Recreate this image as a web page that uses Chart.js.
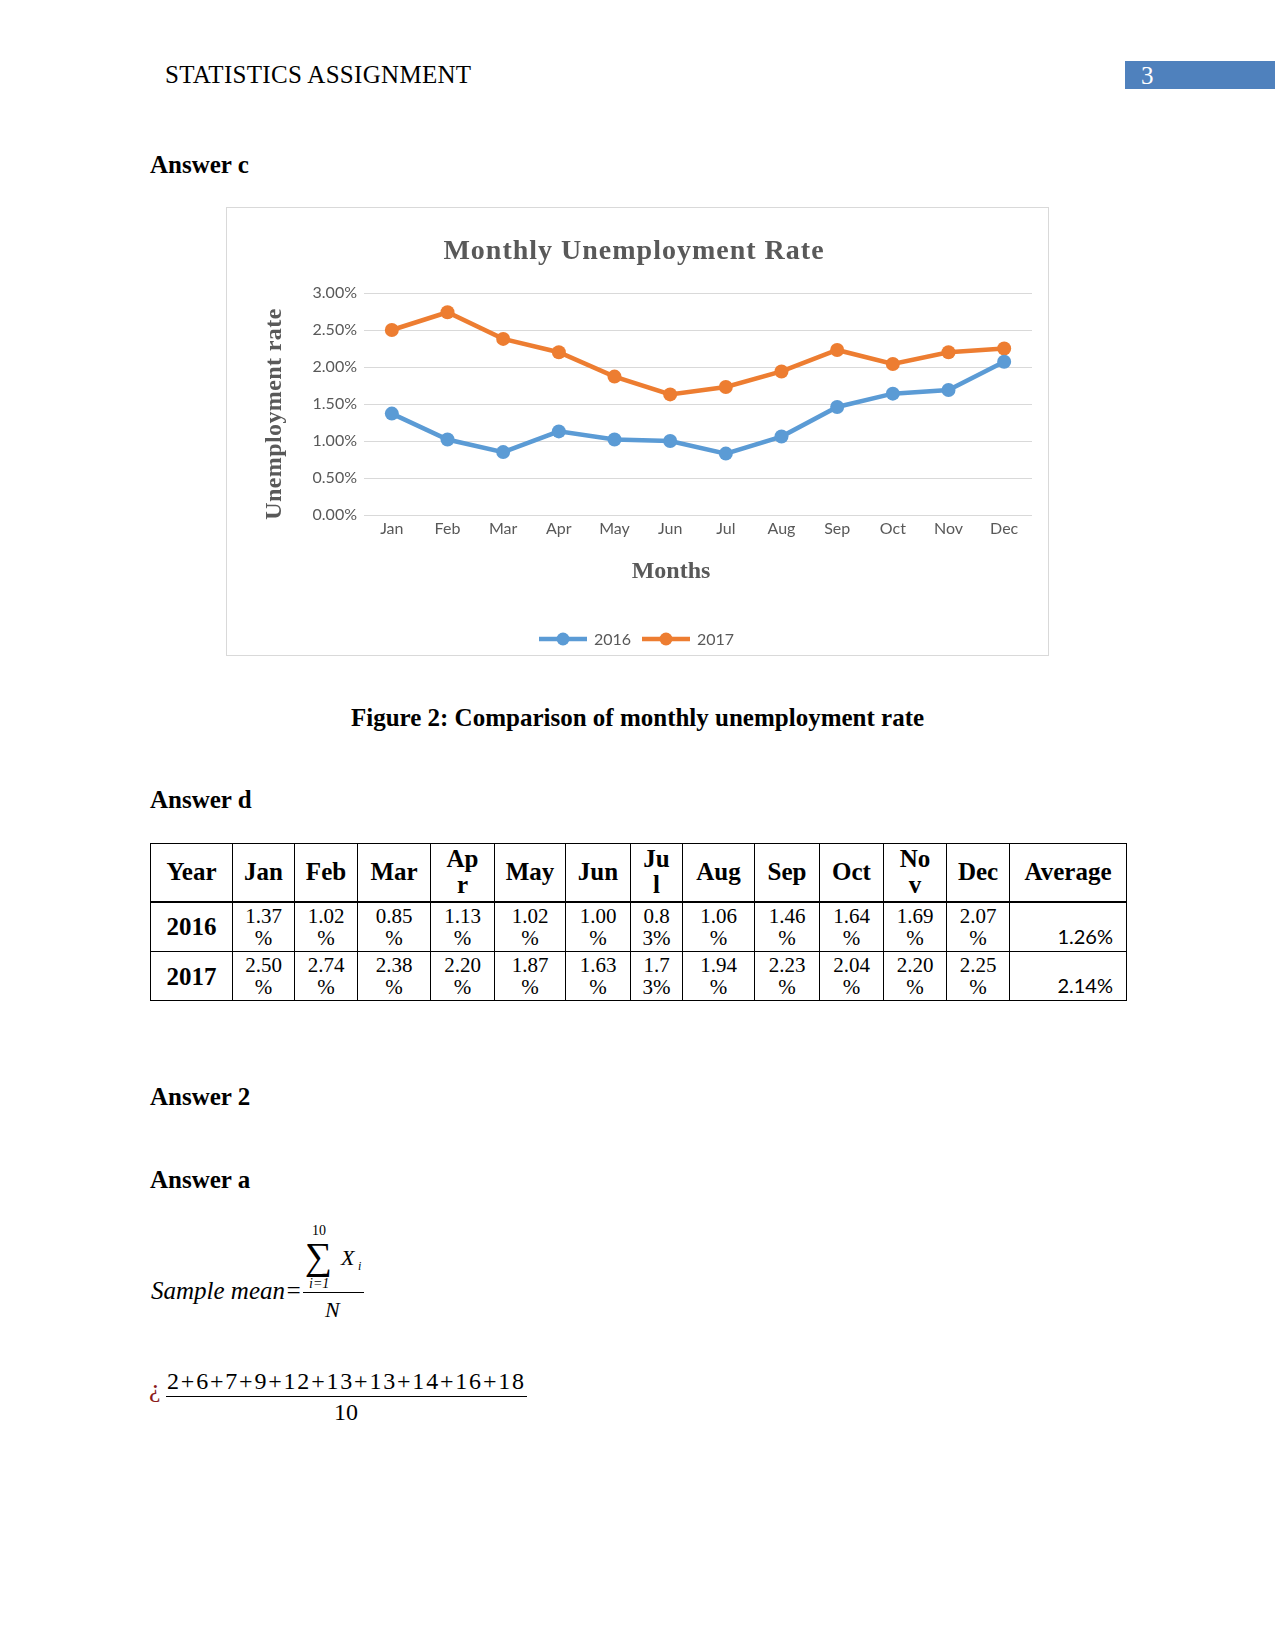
<!DOCTYPE html>
<html>
<head>
<meta charset="utf-8">
<script src="https://cdn.jsdelivr.net/npm/chart.js@4.4.0/dist/chart.umd.min.js"></script>
<style>
  body { margin: 0; background: #fff; }
  #page { position: relative; width: 1275px; height: 1650px; font-family: "Liberation Serif", serif; color: #000; overflow: hidden; }
  .t { position: absolute; white-space: nowrap; font-size: 25px; line-height: 25px; }
  .b { font-weight: bold; }
  #pageNo { position: absolute; left: 1125px; top: 61px; width: 150px; height: 28px; background: #4f81bd; }
  #pageNo span { position: absolute; left: 16px; top: 2px; color: #fff; font-size: 25px; line-height: 25px; }
  #chartBox { position: absolute; left: 226px; top: 207px; width: 823px; height: 449px; box-sizing: border-box; border: 1px solid #d9d9d9; }
  #chartBox canvas { display: block; }
  #tbl { position: absolute; left: 150px; top: 843px; border-collapse: collapse; table-layout: fixed; width: 976px; }
  #tbl td, #tbl th { border: 1px solid #000; padding: 0; text-align: center; }
  #tbl tr.hd { height: 58px; }
  #tbl tr.hd th { font-size: 25px; line-height: 26px; border-bottom: 2px solid #000; }
  #tbl tr.r1 { height: 50px; }
  #tbl tr.r2 { height: 49px; }
  #tbl td.yr { font-weight: bold; font-size: 25px; line-height: 25px; }
  #tbl td.v { font-size: 21px; line-height: 22px; }
  #tbl td.avg { font-family: Lato, sans-serif; font-size: 20px; line-height: 21px; text-align: right; vertical-align: bottom; padding: 0 13px 4px 0; }
  .m { position: absolute; white-space: nowrap; font-family: "Liberation Serif", serif; }
</style>
</head>
<body>
<div id="page">
  <div class="t" style="left:165px; top:62px; letter-spacing:0.3px;">STATISTICS ASSIGNMENT</div>
  <div id="pageNo"><span>3</span></div>

  <div class="t b" style="left:150px; top:152px;">Answer c</div>

  <div id="chartBox"><canvas id="unempChart" width="821" height="447"></canvas></div>

  <div class="t b" style="left:0; width:1275px; text-align:center; top:705px;">Figure 2: Comparison of monthly unemployment rate</div>

  <div class="t b" style="left:150px; top:787px;">Answer d</div>

  <table id="tbl"></table>

  <div class="t b" style="left:150px; top:1084px;">Answer 2</div>
  <div class="t b" style="left:150px; top:1167px;">Answer a</div>

  <!-- sample mean formula -->
  <div class="m" style="left:151px; top:1278px; font-size:25px; line-height:25px; font-style:italic;">Sample mean=</div>
  <div class="m" style="left:312px; top:1224px; font-size:14px; line-height:14px;">10</div>
  <div class="m" style="left:305px; top:1237px; font-size:38px; line-height:38px;">&sum;</div>
  <div class="m" style="left:341px; top:1247px; font-size:22px; line-height:22px; font-style:italic;">X</div>
  <div class="m" style="left:358px; top:1260px; font-size:12px; line-height:12px; font-style:italic;">i</div>
  <div class="m" style="left:309px; top:1277px; font-size:14px; line-height:13px; font-style:italic;">i=1</div>
  <div style="position:absolute; left:303px; top:1292px; width:61px; height:1px; background:#000;"></div>
  <div class="m" style="left:325px; top:1299px; font-size:22px; line-height:22px; font-style:italic;">N</div>

  <div class="m" style="left:149px; top:1376px; font-size:26px; line-height:26px; color:#8b1a1a;">&iquest;</div>
  <div class="m" style="left:167px; top:1369px; font-size:24px; line-height:24px; letter-spacing:1.8px;">2+6+7+9+12+13+13+14+16+18</div>
  <div style="position:absolute; left:166px; top:1396px; width:361px; height:1px; background:#000;"></div>
  <div class="m" style="left:334px; top:1400px; font-size:24px; line-height:24px;">10</div>
</div>

<script>
const months = ['Jan', 'Feb', 'Mar', 'Apr', 'May', 'Jun', 'Jul', 'Aug', 'Sep', 'Oct', 'Nov', 'Dec'];
const years = ['2016', '2017'];
const rate2016 = [1.37, 1.02, 0.85, 1.13, 1.02, 1.00, 0.83, 1.06, 1.46, 1.64, 1.69, 2.07];
const rate2017 = [2.50, 2.74, 2.38, 2.20, 1.87, 1.63, 1.73, 1.94, 2.23, 2.04, 2.20, 2.25];
const averages = [1.26, 2.14];
// header cells wrap in the narrow columns of the original table
const tableHeaders = ['Jan', 'Feb', 'Mar', 'Ap<br>r', 'May', 'Jun', 'Ju<br>l', 'Aug', 'Sep', 'Oct', 'No<br>v', 'Dec'];

const colWidths = [82, 62, 63, 73, 64, 71, 65, 52, 72, 65, 64, 63, 63, 117];

// Function to build the table under the chart
function buildTable() {
    const table = document.getElementById('tbl');
    let html = '<colgroup>';
    colWidths.forEach(w => { html += `<col style="width:${w}px">`; });
    html += '</colgroup>';

    html += '<tr class="hd"><th>Year</th>';
    tableHeaders.forEach(h => { html += `<th>${h}</th>`; });
    html += '<th>Average</th></tr>';

    [rate2016, rate2017].forEach((rates, r) => {
        html += `<tr class="r${r + 1}"><td class="yr">${years[r]}</td>`;
        rates.forEach((v, i) => {
            const s = v.toFixed(2) + '%';
            const cut = i === 6 ? 3 : 4;
            html += `<td class="v">${s.slice(0, cut)}<br>${s.slice(cut)}</td>`;
        });
        html += `<td class="avg">${averages[r].toFixed(2)}%</td></tr>`;
    });

    table.innerHTML = html;
}

// Plugin drawing chart title, axis titles and the legend
const chartLabels = {
    id: 'chartLabels',
    afterDraw(chart) {
        const ctx = chart.ctx;
        ctx.save();
        ctx.fillStyle = '#595959';
        ctx.textAlign = 'center';
        ctx.textBaseline = 'middle';

        ctx.font = 'bold 28px "Liberation Serif"';
        ctx.letterSpacing = '1px';
        ctx.fillText('Monthly Unemployment Rate', 407, 44);

        ctx.font = 'bold 24px "Liberation Serif"';
        ctx.letterSpacing = '0px';
        ctx.fillText('Months', 444, 364);

        ctx.save();
        ctx.translate(48, 206);
        ctx.rotate(-Math.PI / 2);
        ctx.letterSpacing = '0.4px';
        ctx.fillText('Unemployment rate', 0, 0);
        ctx.restore();

        // legend
        ctx.letterSpacing = '0px';
        ctx.font = '16px Lato';
        ctx.textAlign = 'left';
        let x = 312;
        const y = 431;
        chart.data.datasets.forEach(ds => {
            ctx.strokeStyle = ds.borderColor;
            ctx.lineWidth = 4.5;
            ctx.beginPath();
            ctx.moveTo(x, y);
            ctx.lineTo(x + 48, y);
            ctx.stroke();
            ctx.fillStyle = ds.borderColor;
            ctx.beginPath();
            ctx.arc(x + 24, y, 6.5, 0, Math.PI * 2);
            ctx.fill();
            ctx.fillStyle = '#595959';
            ctx.fillText(ds.label, x + 55, y + 1);
            x += 103;
        });
        ctx.restore();
    }
};

// Function to initialize the line chart
function initChart() {
    const ctx = document.getElementById('unempChart').getContext('2d');
    new Chart(ctx, {
        type: 'line',
        data: {
            labels: months,
            datasets: [{
                label: years[0],
                data: rate2016,
                borderColor: '#5b9bd5',
                backgroundColor: '#5b9bd5',
                pointBackgroundColor: '#5b9bd5',
                pointBorderColor: '#5b9bd5',
                borderWidth: 4.5,
                pointRadius: 7,
                pointBorderWidth: 0,
                tension: 0
            }, {
                label: years[1],
                data: rate2017,
                borderColor: '#ed7d31',
                backgroundColor: '#ed7d31',
                pointBackgroundColor: '#ed7d31',
                pointBorderColor: '#ed7d31',
                borderWidth: 4.5,
                pointRadius: 7,
                pointBorderWidth: 0,
                tension: 0
            }]
        },
        options: {
            responsive: false,
            animation: false,
            devicePixelRatio: 1,
            layout: { padding: { left: 0, right: 16, top: 85, bottom: 0 } },
            plugins: {
                legend: { display: false },
                title: { display: false },
                tooltip: { enabled: false }
            },
            scales: {
                x: {
                    offset: true,
                    grid: { display: false, drawTicks: false },
                    border: { display: false },
                    ticks: { color: '#595959', font: { family: 'Lato', size: 16 }, padding: 4, maxRotation: 0 },
                    afterFit(scale) { scale.height = 140; }
                },
                y: {
                    min: 0,
                    max: 3,
                    grid: { color: '#d9d9d9', drawTicks: false, lineWidth: 1 },
                    border: { display: false },
                    ticks: {
                        stepSize: 0.5,
                        color: '#595959',
                        font: { family: 'Lato', size: 16 },
                        padding: 7,
                        callback: function(value) {
                            return value.toFixed(2) + '%';
                        }
                    },
                    afterFit(scale) { scale.width = 137; }
                }
            }
        },
        plugins: [chartLabels]
    });
}

buildTable();
initChart();
</script>
</body>
</html>
